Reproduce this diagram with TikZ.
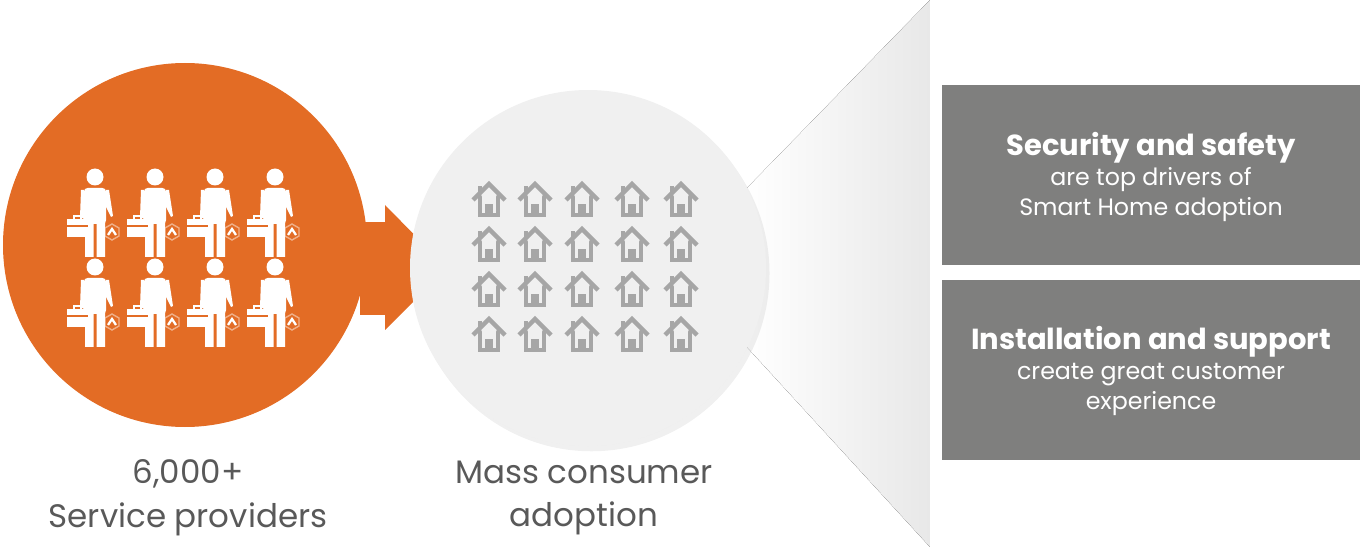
\documentclass[tikz,border=0pt]{standalone}
\usepackage{fontspec}
\setmainfont{Poppins}
\usetikzlibrary{shadows}
\definecolor{org}{HTML}{E36C25}
\definecolor{lg}{HTML}{F0F0F0}
\definecolor{hg}{HTML}{A6A6A6}
\definecolor{bx}{HTML}{7F7F7E}
\definecolor{tx}{HTML}{595959}
\tikzset{
 x=0.02cm,y=-0.02cm,
 infobox/.style={fill=bx,draw=none},
 lbl/.style={text=tx,font=\fontsize{18.5}{25}\selectfont,align=center},
 boxtxt/.style={text=white,align=center,font=\fontsize{13.5}{17}\selectfont},
 person/.pic={
  \fill[white] (0,0) circle (8.5);
  \fill[white,rounded corners=2] (-11,11) rectangle (11,47);
  \fill[white] (-10,45) rectangle (-1.5,80) (1.5,45) rectangle (10,80);
  \fill[white] (-14,13) -- (-11,13) -- (-11,42) -- (-15,40) -- cycle;
  \fill[white] (14,13) -- (11,13) -- (11,30) -- (16,40) -- (18,39) -- cycle;
  \fill[white] (-28,42) rectangle (-7,60);
  \draw[org,line width=0.6] (-28,49) -- (-7,49);
  \draw[white,line width=1] (-21,42) -- (-21,39) -- (-14,39) -- (-14,42);
  \draw[white,opacity=0.45,line width=0.8] (17,47) -- ++(7,4) -- ++(0,8) -- ++(-7,4) -- ++(-7,-4) -- ++(0,-8) -- cycle;
  \draw[white,line width=1.3] (13,58) -- (17,52) -- (21,58);
 },
 house/.pic={
  \draw[hg,line width=0.09cm,line join=miter] (-16,0) -- (0,-16) -- (16,0);
  \draw[hg,line width=0.09cm,line cap=round] (-9,-3) -- (-9,15) -- (9,15) -- (9,-3);
  \fill[hg] (-11,-14) rectangle (-7,-6);
  \fill[hg] (-4,4) rectangle (4,15);
 }
}
\begin{document}
\begin{tikzpicture}
\useasboundingbox (0,0) rectangle (1360,547);
\fill[left color=white,right color=gray!18] (745,190) -- (930,0) -- (930,547) -- (745,345) -- cycle;
\fill[white] (930,0) rectangle (1360,547);
\fill[org] (360,222) rectangle (390,315);
\fill[org] (385,205) -- (447,268) -- (385,330) -- cycle;
\node[circle,fill=org,minimum size=364*0.02cm,inner sep=0] (c1) at (185,245) {};
\node[circle,fill=lg,minimum size=356*0.02cm,inner sep=0,drop shadow={opacity=0.12,shadow xshift=2pt,shadow yshift=-3pt}] (c2) at (588,268) {};
\foreach \r [count=\i] in {177,267} \foreach \c in {95,155,215,275} \pic at (\c,\r) {person};
\foreach \r in {200,245,290,335} \foreach \c in {489,535,582,632,681} \pic at (\c,\r) {house};
\fill[infobox] (942,85) rectangle (1360,265);
\fill[infobox] (942,280) rectangle (1360,460);
\node[boxtxt] (t1) at (1151,177) {{\bfseries\fontsize{16.5}{20}\selectfont Security and safety}\\are top drivers of\\Smart Home adoption};
\node[boxtxt] (t2) at (1151,371) {{\bfseries\fontsize{16.5}{20}\selectfont Installation and support}\\create great customer\\experience};
\node[lbl] (l1) at (188,498) {6,000+\\Service providers};
\node[lbl] (l2) at (584,498) {Mass consumer\\adoption};
\end{tikzpicture}
\end{document}
